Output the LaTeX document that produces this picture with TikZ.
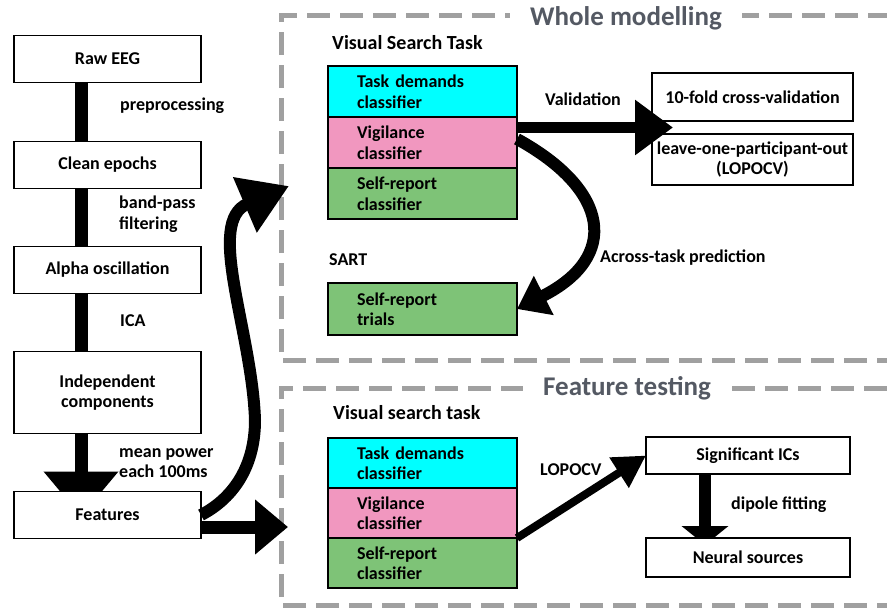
\documentclass[tikz,border=0pt]{standalone}
\usepackage{fontspec}
\setmainfont{Carlito}
\usetikzlibrary{positioning,arrows.meta,backgrounds,calc}

\definecolor{taskcyan}{RGB}{0,255,255}
\definecolor{vigpink}{RGB}{241,151,191}
\definecolor{selfgreen}{RGB}{126,195,119}
\definecolor{framegray}{RGB}{160,160,160}
\definecolor{titlegray}{RGB}{84,89,99}

\tikzset{
  box/.style={draw, line width=1.6pt, fill=white, minimum width=187pt,
    minimum height=47pt, align=center, inner sep=1pt, outer sep=0pt},
  row/.style={draw, line width=1.6pt, minimum width=189pt, minimum height=51pt,
    text width=131pt, inner xsep=29pt, inner ysep=1pt, align=left, outer sep=0pt},
  lbl/.style={inner sep=0pt, anchor=west, align=left},
  tasklbl/.style={lbl, font=\bfseries\fontsize{20}{24}\selectfont},
  frame/.style={draw=framegray, line width=5pt, dash pattern=on 23pt off 10pt},
  title/.style={fill=white, text=titlegray, inner xsep=20pt, inner ysep=2pt,
    font=\bfseries\fontsize{27}{30}\selectfont},
  flow/.style={line width=12pt},
}

\begin{document}
\begin{tikzpicture}[x=1pt, y=-1pt, font=\bfseries\fontsize{18}{20.5}\selectfont]
\useasboundingbox (0,0) rectangle (887,608);

% dashed frames
\draw[frame] (900,360) -- (281,360) -- (281,15) -- (900,15);
\draw[frame] (900,605) -- (281,605) -- (281,388) -- (900,388);
\node[title] (wmtitle) at (626,18) {Whole modelling};
\node[title] (fttitle) at (627,388) {Feature testing};

% pipeline
\node[box]                                   (raw)    at (107.5,59) {Raw EEG};
\node[box, below=59pt of raw]                (clean)  {Clean epochs};
\node[box, below=58pt of clean]              (alpha)  {Alpha oscillation};
\node[box, below=58pt of alpha, minimum height=82pt] (indep) {Independent\\components};
\node[box, below=58pt of indep]              (feat)   {Features};

\node[lbl] (preproc) at (120,106) {preprocessing};
\node[lbl] (bandpass) at (119,214) {band-pass\\filtering};
\node[lbl] (ica) at (120,321) {ICA};
\node[lbl] (meanpow) at (119,463) {mean power\\each 100ms};

\draw[flow, line width=13pt] ([xshift=-26.5pt]raw.south) -- ([xshift=-26.5pt]clean.north);
\draw[flow, line width=13pt] ([xshift=-26.5pt]clean.south) -- ([xshift=-26.5pt]alpha.north);
\draw[flow, line width=13pt] ([xshift=-26.5pt]alpha.south) -- ([xshift=-26.5pt]indep.north);

% whole modelling
\node[tasklbl] (vstask) at (332,43) {Visual Search Task};
\node[row, fill=taskcyan]                   (wmtask) at (422.5,91.5) {Task demands\\classifier};
\node[row, fill=vigpink, below=0pt of wmtask]   (wmvig)  {Vigilance\\classifier};
\node[row, fill=selfgreen, below=0pt of wmvig]  (wmself) {Self-report\\classifier};

\node[lbl] (sart) at (329,260) {SART};
\node[row, fill=selfgreen, minimum height=52pt] (trials) at (422.5,309) {Self-report\\trials};

\node[box, minimum width=201pt, minimum height=48pt] (tenfold) at (752.5,97) {10-fold cross-validation};
\node[box, minimum width=201pt, minimum height=51pt, below=13pt of tenfold] (lopo) {leave-one-participant-out\\(LOPOCV)};

\node[lbl] (valid) at (545,99) {Validation};
\node[lbl] (across) at (600,258) {Across-task prediction};

% feature testing
\node[tasklbl] (vstask2) at (333,413) {Visual search task};
\node[row, fill=taskcyan, minimum height=50pt]  (fttask) at (422.5,463) {Task demands\\classifier};
\node[row, fill=vigpink, minimum height=50pt, below=0pt of fttask]  (ftvig)  {Vigilance\\classifier};
\node[row, fill=selfgreen, minimum height=50pt, below=0pt of ftvig] (ftself) {Self-report\\classifier};

\node[box, minimum width=204pt, minimum height=37pt] (sig) at (748,455.5) {Significant ICs};
\node[box, minimum width=204pt, minimum height=39pt, below=64pt of sig] (neural) {Neural sources};

\node[lbl] (lopolbl) at (540,470) {LOPOCV};
\node[lbl] (dipole) at (731,505) {dipole fitting};

% arrows hidden under the boxes
\begin{scope}[on background layer]
\draw[flow, line width=13pt, -{Triangle[length=45pt,width=72pt]}]
  ([xshift=-26.5pt]indep.south) -- ([xshift=-26.5pt,yshift=-25pt]feat.north);
\draw[flow, -{Triangle[length=19pt,width=46pt]}]
  ([xshift=-43pt]sig.south) -- ([xshift=-43pt,yshift=-7pt]neural.north);
\end{scope}

\coordinate (wmin) at (289,186);
\coordinate (ftin) at (288,527);
\coordinate (valtip) at ($(tenfold.south west)!0.5!(lopo.north west)+(21pt,0)$);

\draw[flow, -{Triangle[length=48pt,width=57pt]}] (feat.east)
  .. controls (230,500) and (255,470) .. (255,420)
  .. controls (252,330) and (205,222) .. (wmin);
\draw[flow, line width=13pt, -{Triangle[length=33pt,width=53pt]}] (feat.east |- ftin) -- (ftin);

\draw[flow, line width=11pt, -{Triangle[length=38pt,width=53pt]}] (wmvig.east |- valtip) -- (valtip);
\draw[flow, -{Triangle[length=30pt,width=42pt]}] ([yshift=-22pt]wmvig.north east)
  .. controls (610,190) and (620,257) .. (trials.east);

\draw[flow, line width=8pt, -{Triangle[length=32pt,width=34pt]}] (ftvig.south east) -- (sig.west);

\end{tikzpicture}
\end{document}
